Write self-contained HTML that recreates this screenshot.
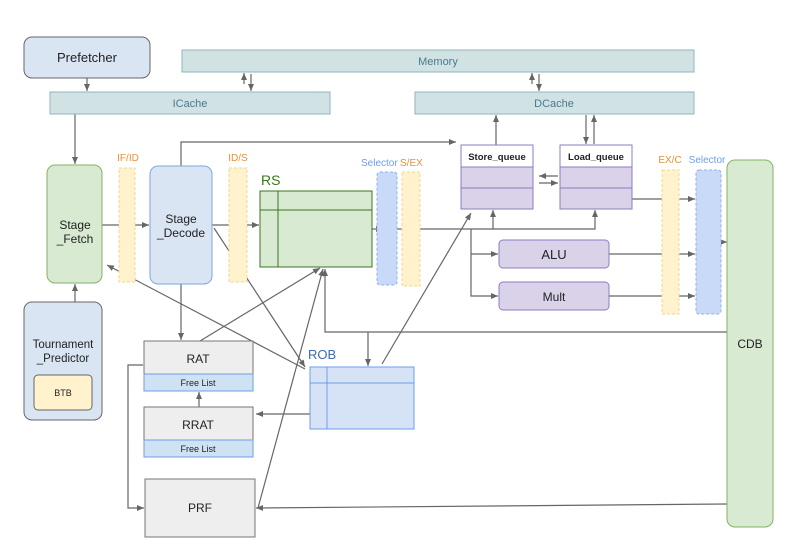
<!DOCTYPE html>
<html><head><meta charset="utf-8"><style>
html,body{margin:0;padding:0;background:#fff;}
svg{display:block;font-family:"Liberation Sans",Arial,sans-serif;}
</style></head><body>
<svg width="800" height="552" viewBox="0 0 800 552" xmlns="http://www.w3.org/2000/svg">
<defs>
<marker id="a" markerWidth="8" markerHeight="8" refX="7" refY="4" orient="auto" markerUnits="userSpaceOnUse">
<path d="M0,1 L7,4 L0,7 z" fill="#666"/></marker>
</defs>
<g stroke="#666" stroke-width="1.2" fill="none">
<line x1="87" y1="78" x2="87" y2="91" marker-end="url(#a)"/>
<line x1="244" y1="84" x2="244" y2="73" marker-end="url(#a)"/>
<line x1="251" y1="74" x2="251" y2="91" marker-end="url(#a)"/>
<line x1="532" y1="84" x2="532" y2="73" marker-end="url(#a)"/>
<line x1="539" y1="74" x2="539" y2="91" marker-end="url(#a)"/>
<line x1="75" y1="114" x2="75" y2="164" marker-end="url(#a)"/>
<line x1="496" y1="145" x2="496" y2="115" marker-end="url(#a)"/>
<line x1="586" y1="115" x2="586" y2="144" marker-end="url(#a)"/>
<line x1="594" y1="144" x2="594" y2="115" marker-end="url(#a)"/>
<polyline points="181,166 181,142 456,142" marker-end="url(#a)"/>
<line x1="558" y1="176" x2="539" y2="176" marker-end="url(#a)"/>
<line x1="539" y1="183" x2="558" y2="183" marker-end="url(#a)"/>
<line x1="102" y1="225" x2="149" y2="225" marker-end="url(#a)"/>
<line x1="212" y1="225" x2="259" y2="225" marker-end="url(#a)"/>
<line x1="372" y1="229" x2="383" y2="229" marker-end="url(#a)"/>
<polyline points="397,229 595,229 595,210" marker-end="url(#a)"/>
<line x1="493" y1="229" x2="493" y2="210" marker-end="url(#a)"/>
<polyline points="471,229 471,296 498,296" marker-end="url(#a)"/>
<line x1="471" y1="254" x2="498" y2="254" marker-end="url(#a)"/>
<line x1="632" y1="199" x2="695" y2="199" marker-end="url(#a)"/>
<line x1="609" y1="254" x2="695" y2="254" marker-end="url(#a)"/>
<line x1="609" y1="296" x2="695" y2="296" marker-end="url(#a)"/>
<line x1="721" y1="242" x2="727" y2="242" marker-end="url(#a)"/>
<polyline points="727,332 325,332 325,269" marker-end="url(#a)"/>
<line x1="368" y1="332" x2="368" y2="366" marker-end="url(#a)"/>
<line x1="75" y1="302" x2="75" y2="284" marker-end="url(#a)"/>
<line x1="214" y1="228" x2="305" y2="367" marker-end="url(#a)"/>
<line x1="305" y1="369" x2="107" y2="265" marker-end="url(#a)"/>
<line x1="200" y1="341" x2="320" y2="268" marker-end="url(#a)"/>
<line x1="258" y1="508" x2="323" y2="269" marker-end="url(#a)"/>
<line x1="382" y1="364" x2="471" y2="213" marker-end="url(#a)"/>
<line x1="181" y1="284" x2="181" y2="340" marker-end="url(#a)"/>
<line x1="199" y1="407" x2="199" y2="392" marker-end="url(#a)"/>
<line x1="310" y1="414" x2="256" y2="414" marker-end="url(#a)"/>
<polyline points="143,365 128,365 128,508 144,508" marker-end="url(#a)"/>
<line x1="727" y1="504" x2="256" y2="508" marker-end="url(#a)"/>
</g>
<rect x="24" y="37" width="126" height="41" rx="8" fill="#dae5f4" stroke="#666"/>
<text x="87" y="62" font-size="13" text-anchor="middle" fill="#222">Prefetcher</text>
<rect x="182" y="50" width="512" height="22" fill="#d0e2e3" stroke="#8fb5b8"/>
<text x="438" y="65" font-size="11" text-anchor="middle" fill="#4a7a90">Memory</text>
<rect x="50" y="92" width="280" height="22" fill="#d0e2e3" stroke="#8fb5b8"/>
<text x="190" y="107" font-size="11" text-anchor="middle" fill="#4a7a90">ICache</text>
<rect x="415" y="92" width="279" height="22" fill="#d0e2e3" stroke="#8fb5b8"/>
<text x="554" y="107" font-size="11" text-anchor="middle" fill="#4a7a90">DCache</text>

<rect x="47" y="165" width="55" height="118" rx="8" fill="#d9ead3" stroke="#82b366"/>
<text x="75" y="229" font-size="12" text-anchor="middle" fill="#222">Stage</text>
<text x="75" y="243" font-size="12" text-anchor="middle" fill="#222">_Fetch</text>
<rect x="150" y="166" width="62" height="118" rx="8" fill="#dae5f4" stroke="#7ea6e0"/>
<text x="181" y="223" font-size="12" text-anchor="middle" fill="#222">Stage</text>
<text x="181" y="237" font-size="12" text-anchor="middle" fill="#222">_Decode</text>

<g stroke-dasharray="3,2">
<rect x="119" y="168" width="16" height="114" fill="#fff2cc" stroke="#f5d78e"/>
<rect x="229" y="168" width="18" height="114" fill="#fff2cc" stroke="#f5d78e"/>
<rect x="377" y="172" width="20" height="113" rx="3" fill="#c9daf8" stroke="#8fb0ec"/>
<rect x="402" y="172" width="18" height="114" fill="#fff2cc" stroke="#f5d78e"/>
<rect x="662" y="170" width="17" height="144" fill="#fff2cc" stroke="#f5d78e"/>
<rect x="696" y="170" width="25" height="144" rx="3" fill="#c9daf8" stroke="#8fb0ec"/>
</g>
<g font-size="10">
<text x="128" y="161" text-anchor="middle" fill="#e69138">IF/ID</text>
<text x="238" y="161" text-anchor="middle" fill="#e69138">ID/S</text>
<text x="361" y="166" fill="#6d9eeb">Selector</text>
<text x="400" y="166" fill="#e69138">S/EX</text>
<text x="670" y="163" text-anchor="middle" fill="#e69138">EX/C</text>
<text x="707" y="163" text-anchor="middle" fill="#6d9eeb">Selector</text>
</g>

<text x="261" y="185" font-size="14" fill="#38761d">RS</text>
<rect x="260" y="191" width="112" height="76" fill="#d9ead3" stroke="#38761d"/>
<line x1="278" y1="191" x2="278" y2="267" stroke="#38761d"/>
<line x1="260" y1="210" x2="372" y2="210" stroke="#38761d"/>

<rect x="461" y="145" width="72" height="64" fill="#d9d2e9" stroke="#8e7cc3"/>
<rect x="461" y="145" width="72" height="22" fill="#fff" stroke="#8e7cc3"/>
<line x1="461" y1="188" x2="533" y2="188" stroke="#8e7cc3"/>
<text x="497" y="160" font-size="9.5" font-weight="bold" text-anchor="middle" fill="#222">Store_queue</text>
<rect x="560" y="145" width="72" height="64" fill="#d9d2e9" stroke="#8e7cc3"/>
<rect x="560" y="145" width="72" height="22" fill="#fff" stroke="#8e7cc3"/>
<line x1="560" y1="188" x2="632" y2="188" stroke="#8e7cc3"/>
<text x="596" y="160" font-size="9.5" font-weight="bold" text-anchor="middle" fill="#222">Load_queue</text>

<rect x="499" y="240" width="110" height="28" rx="4" fill="#d9d2e9" stroke="#8e7cc3"/>
<text x="554" y="259" font-size="13" text-anchor="middle" fill="#222">ALU</text>
<rect x="499" y="282" width="110" height="28" rx="4" fill="#d9d2e9" stroke="#8e7cc3"/>
<text x="554" y="301" font-size="12" text-anchor="middle" fill="#222">Mult</text>

<rect x="727" y="160" width="46" height="367" rx="8" fill="#d9ead3" stroke="#82b366"/>
<text x="750" y="348" font-size="12" text-anchor="middle" fill="#222">CDB</text>

<rect x="24" y="302" width="78" height="118" rx="8" fill="#dae5f4" stroke="#666"/>
<text x="63" y="348" font-size="11.5" text-anchor="middle" fill="#222">Tournament</text>
<text x="63" y="362" font-size="11.5" text-anchor="middle" fill="#222">_Predictor</text>
<rect x="34" y="375" width="58" height="35" rx="4" fill="#fff2cc" stroke="#666"/>
<text x="63" y="396" font-size="9" text-anchor="middle" fill="#222">BTB</text>

<rect x="144" y="341" width="109" height="33" fill="#eeeeee" stroke="#777"/>
<rect x="144" y="374" width="109" height="17" fill="#cfe2f3" stroke="#6d9eeb"/>
<text x="198" y="363" font-size="12" text-anchor="middle" fill="#222">RAT</text>
<text x="198" y="386" font-size="9" text-anchor="middle" fill="#222">Free List</text>
<rect x="144" y="407" width="109" height="33" fill="#eeeeee" stroke="#777"/>
<rect x="144" y="440" width="109" height="17" fill="#cfe2f3" stroke="#6d9eeb"/>
<text x="198" y="429" font-size="12" text-anchor="middle" fill="#222">RRAT</text>
<text x="198" y="452" font-size="9" text-anchor="middle" fill="#222">Free List</text>
<rect x="145" y="479" width="110" height="58" fill="#eeeeee" stroke="#777"/>
<text x="200" y="512" font-size="12" text-anchor="middle" fill="#222">PRF</text>

<text x="308" y="359" font-size="13" fill="#3d6cb0">ROB</text>
<rect x="310" y="367" width="104" height="62" fill="#d6e3f6" stroke="#6d9eeb"/>
<line x1="327" y1="367" x2="327" y2="429" stroke="#6d9eeb"/>
<line x1="310" y1="383" x2="414" y2="383" stroke="#6d9eeb"/>
</svg>
</body></html>
